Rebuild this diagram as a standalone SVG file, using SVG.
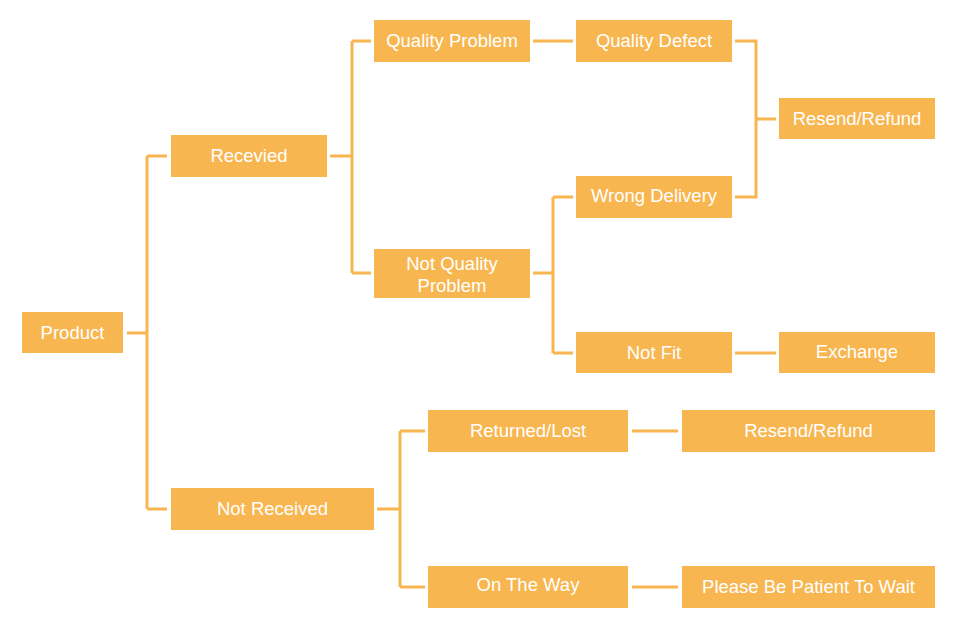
<svg xmlns="http://www.w3.org/2000/svg" width="960" height="630" viewBox="0 0 960 630">
<style>
.box{fill:#F8B650;}
.t{fill:#ffffff;font-family:"Liberation Sans",Arial,sans-serif;font-size:18.5px;text-anchor:middle;}
.c{fill:none;stroke:#F8B650;stroke-width:3;stroke-linecap:butt;stroke-linejoin:miter;}
</style>
<rect width="960" height="630" fill="#ffffff"/>
<g id="connectors">
<path class="c" d="M127,333H147M147,156V509M147,156H167M147,509H167"/>
<path class="c" d="M330,156H352M352,41V273M352,41H371M352,273H371"/>
<path class="c" d="M533,41H573"/>
<path class="c" d="M735,41H756V197H735M756,119H776"/>
<path class="c" d="M533,273H553M553,197V353M553,197H573M553,353H573"/>
<path class="c" d="M735,353H776"/>
<path class="c" d="M377,509H400M400,431V587M400,431H425M400,587H425"/>
<path class="c" d="M632,431H678M632,587H678"/>
</g>
<g id="product"><rect class="box" x="22" y="312" width="101" height="41"/><text class="t" x="72.5" y="339">Product</text></g>
<g id="received"><rect class="box" x="171" y="135" width="156" height="42"/><text class="t" x="249" y="162">Recevied</text></g>
<g id="not-received"><rect class="box" x="171" y="488" width="203" height="42"/><text class="t" x="272.5" y="515">Not Received</text></g>
<g id="quality-problem"><rect class="box" x="374" y="20" width="156" height="42"/><text class="t" x="452" y="47">Quality Problem</text></g>
<g id="not-quality-problem"><rect class="box" x="374" y="249" width="156" height="49"/><text class="t" x="452" y="270">Not Quality</text><text class="t" x="452" y="292">Problem</text></g>
<g id="quality-defect"><rect class="box" x="576" y="20" width="156" height="42"/><text class="t" x="654" y="47">Quality Defect</text></g>
<g id="wrong-delivery"><rect class="box" x="576" y="176" width="156" height="42"/><text class="t" x="654" y="202">Wrong Delivery</text></g>
<g id="not-fit"><rect class="box" x="576" y="332" width="156" height="41"/><text class="t" x="654" y="359">Not Fit</text></g>
<g id="resend-refund-1"><rect class="box" x="779" y="98" width="156" height="41"/><text class="t" x="857" y="125">Resend/Refund</text></g>
<g id="exchange"><rect class="box" x="779" y="332" width="156" height="41"/><text class="t" x="857" y="358">Exchange</text></g>
<g id="returned-lost"><rect class="box" x="428" y="410" width="200" height="42"/><text class="t" x="528" y="437">Returned/Lost</text></g>
<g id="resend-refund-2"><rect class="box" x="682" y="410" width="253" height="42"/><text class="t" x="808.5" y="437">Resend/Refund</text></g>
<g id="on-the-way"><rect class="box" x="428" y="566" width="200" height="42"/><text class="t" x="528" y="591">On The Way</text></g>
<g id="please-wait"><rect class="box" x="682" y="566" width="253" height="42"/><text class="t" x="808.5" y="593">Please Be Patient To Wait</text></g>
</svg>
